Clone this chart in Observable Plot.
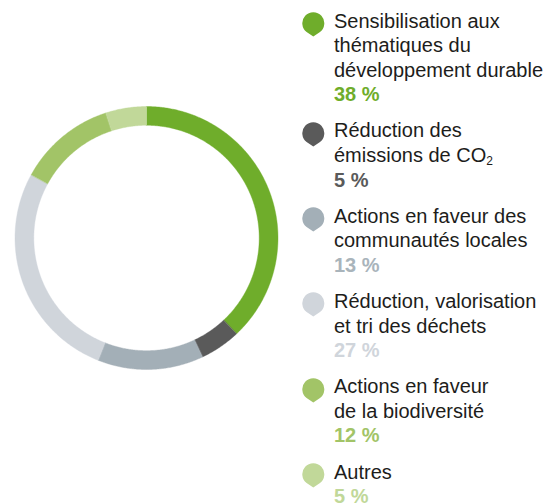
<!DOCTYPE html>
<html>
<head>
<meta charset="utf-8">
<script src="https://cdn.jsdelivr.net/npm/d3@7"></script>
<script src="https://cdn.jsdelivr.net/npm/@observablehq/plot@0.6"></script>
<style>
  body { margin: 0; background: #fff; font-family: "Liberation Sans", Arial, sans-serif; }
  #wrap { position: relative; width: 548px; height: 503px; overflow: hidden; }
  #chart { position: absolute; left: 0; top: 0; }
  #legend { position: absolute; left: 302px; top: 8.5px; width: 246px; }
  .item { position: relative; padding-left: 32px; margin-bottom: 11.5px; font-size: 20px; line-height: 24.6px; color: #1d1d1b; white-space: nowrap; }
  .item svg.pin { position: absolute; left: 0; top: 3.5px; }
  .pct { font-weight: bold; }
  sub { font-size: 12px; line-height: 0; vertical-align: -3px; }
</style>
</head>
<body>
<div id="wrap">
  <div id="chart"></div>
  <div id="legend"></div>
</div>
<script>
// ---- data ----
const categories = [
  "Sensibilisation aux thématiques du développement durable",
  "Réduction des émissions de CO₂",
  "Actions en faveur des communautés locales",
  "Réduction, valorisation et tri des déchets",
  "Actions en faveur de la biodiversité",
  "Autres"
];
const labelLines = [
  ["Sensibilisation aux", "thématiques du", "développement durable"],
  ["Réduction des", "émissions de CO₂"],
  ["Actions en faveur des", "communautés locales"],
  ["Réduction, valorisation", "et tri des déchets"],
  ["Actions en faveur", "de la biodiversité"],
  ["Autres"]
];
const values = [38, 5, 13, 27, 12, 5];
const percentLabels = ["38 %", "5 %", "13 %", "27 %", "12 %", "5 %"];
const colors = ["#6fad2b", "#5a5a5a", "#a3afb7", "#d0d5db", "#a2c467", "#c1d899"];
const pctColors = ["#6fad2b", "#5a5a5a", "#a9b4bb", "#d0d5db", "#a2c467", "#c1d899"];

// ---- donut geometry (ring as filled polygons in a unit data space) ----
const innerR = 0.857;
const pie = d3.pie().sort(null).value(d => d.value);
const slices = pie(categories.map((name, i) => ({name, value: values[i]})));
const ring = [];
for (const s of slices) {
  const n = Math.max(2, Math.ceil((s.endAngle - s.startAngle) / (Math.PI / 360)));
  const pts = [];
  for (let k = 0; k <= n; k++) {
    const a = s.startAngle + (s.endAngle - s.startAngle) * k / n;
    pts.push({name: s.data.name, x: Math.sin(a), y: Math.cos(a)});
  }
  for (let k = n; k >= 0; k--) {
    const a = s.startAngle + (s.endAngle - s.startAngle) * k / n;
    pts.push({name: s.data.name, x: innerR * Math.sin(a), y: innerR * Math.cos(a)});
  }
  ring.push(...pts);
}

const chart = Plot.plot({
  width: 292,
  height: 503,
  marginLeft: 14.5,
  marginRight: 14.5,
  marginTop: 106,
  marginBottom: 134,
  x: {domain: [-1, 1], axis: null},
  y: {domain: [-1, 1], axis: null},
  color: {domain: categories, range: colors},
  marks: [
    Plot.line(ring, {x: "x", y: "y", z: "name", fill: "name", stroke: "name", strokeWidth: 0.4, curve: "linear-closed"})
  ]
});
document.getElementById("chart").appendChild(chart);

// ---- legend ----
const legend = d3.select("#legend");
categories.forEach((name, i) => {
  const item = legend.append("div").attr("class", "item");
  const svg = item.append("svg").attr("class", "pin").attr("width", 24).attr("height", 28);
  svg.append("path")
    .attr("d", "M11.3,24.6 L4.6,19.9 A11,11 0 1 1 18,19.9 Z")
    .attr("fill", colors[i]);
  labelLines[i].forEach(line => {
    const div = item.append("div");
    if (line.includes("CO₂")) {
      const [before, after] = line.split("CO₂");
      div.append("span").text(before + "CO");
      div.append("sub").text("2");
      if (after) div.append("span").text(after);
    } else {
      div.text(line);
    }
  });
  item.append("div").attr("class", "pct").style("color", pctColors[i]).text(percentLabels[i]);
});
</script>
</body>
</html>
